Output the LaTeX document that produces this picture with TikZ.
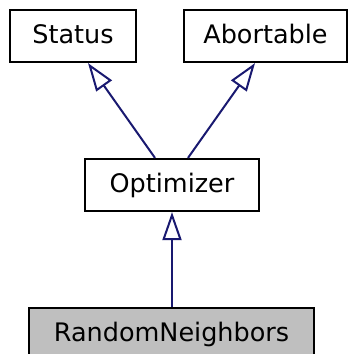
\documentclass[tikz,border=0pt]{standalone}
\usepackage{fontspec}
\setmainfont{DejaVu Sans}
\usetikzlibrary{arrows.meta}
\definecolor{edgeblue}{HTML}{191970}
\definecolor{boxgray}{HTML}{BFBFBF}
\begin{document}
\begin{tikzpicture}[x=1pt,y=-1pt,
  cls/.style={draw=black, line width=2.2pt, fill=white, inner sep=0pt,
    minimum height=52pt,
    font=\fontsize{25.5}{30}\selectfont, text height=20pt, text depth=6pt},
  inh/.style={draw=edgeblue, line width=2pt,
    -{Triangle[open, length=28pt, width=19pt, line width=2pt]}}
]
\useasboundingbox (0,0) rectangle (348,354);
\node[cls, minimum width=126pt] (status) at (73,36) {Status};
\node[cls, minimum width=163pt] (abort) at (265.5,36) {Abortable};
\node[cls, minimum width=174pt] (opt) at (172,185) {Optimizer};
\node[cls, minimum width=285pt, fill=boxgray] (rn) at (171.5,334) {RandomNeighbors};
\draw[inh] ([xshift=-17pt]opt.north) -- ([xshift=15pt]status.south);
\draw[inh] ([xshift=16pt]opt.north) -- ([xshift=-10.5pt]abort.south);
\draw[inh] ([xshift=0.5pt]rn.north) -- (opt.south);
\end{tikzpicture}
\end{document}
